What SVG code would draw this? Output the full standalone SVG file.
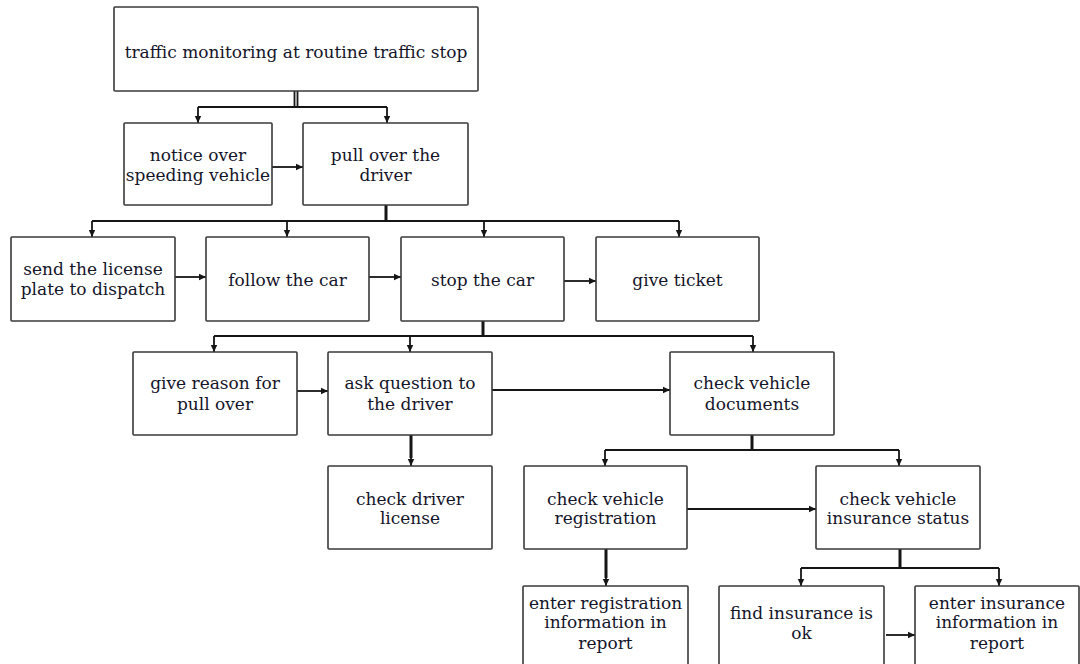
<svg xmlns="http://www.w3.org/2000/svg" width="1080" height="664" viewBox="0 0 1080 664">
  <style>
    .box { fill: #ffffff; stroke: #3a3a3a; stroke-width: 1.6; }
    .lbl { font-family: "DejaVu Serif", "Liberation Serif", serif; font-size: 17px; fill: #15152a; text-anchor: middle; }
    .wire { fill: none; stroke: #151515; stroke-width: 1.8; }
    .stem { fill: none; stroke: #151515; stroke-width: 3; }
    .arrow { fill: none; stroke: #151515; stroke-width: 1.8; marker-end: url(#head); }
  </style>
  <defs>
    <marker id="head" markerUnits="userSpaceOnUse" markerWidth="8" markerHeight="8" refX="7" refY="4" orient="auto">
      <path d="M0,0.8 L7,4 L0,7.2 z" fill="#151515"/>
    </marker>
  </defs>
  <rect width="1080" height="664" fill="#ffffff"/>

  <!-- connectors -->
  <g id="connectors">
    <!-- top split -->
    <line class="wire" x1="294.5" y1="91" x2="294.5" y2="107"/>
    <line class="wire" x1="297.5" y1="91" x2="297.5" y2="107"/>
    <polyline class="wire" points="198,107 387,107"/>
    <line class="arrow" x1="198" y1="107" x2="198" y2="123"/>
    <line class="arrow" x1="387" y1="107" x2="387" y2="123"/>
    <line class="arrow" x1="272" y1="167" x2="303" y2="167"/>

    <!-- pull over split -->
    <line class="stem" x1="386" y1="205" x2="386" y2="221"/>
    <polyline class="wire" points="92,221 679,221"/>
    <line class="arrow" x1="92" y1="221" x2="92" y2="237"/>
    <line class="arrow" x1="287" y1="221" x2="287" y2="237"/>
    <line class="arrow" x1="484" y1="221" x2="484" y2="237"/>
    <line class="arrow" x1="679" y1="221" x2="679" y2="237"/>
    <line class="arrow" x1="175" y1="277" x2="206" y2="277"/>
    <line class="arrow" x1="369" y1="277" x2="401" y2="277"/>
    <line class="arrow" x1="564" y1="281" x2="596" y2="281"/>

    <!-- stop the car split -->
    <line class="stem" x1="483" y1="321" x2="483" y2="336"/>
    <polyline class="wire" points="214,336 753,336"/>
    <line class="arrow" x1="214" y1="336" x2="214" y2="352"/>
    <line class="arrow" x1="410" y1="336" x2="410" y2="352"/>
    <line class="arrow" x1="753" y1="336" x2="753" y2="352"/>
    <line class="arrow" x1="297" y1="391" x2="328" y2="391"/>
    <line class="arrow" x1="492" y1="390" x2="670" y2="390"/>
    <line class="stem" x1="411" y1="435" x2="411" y2="458"/>
    <line class="arrow" x1="411" y1="455" x2="411" y2="466"/>

    <!-- vehicle documents split -->
    <line class="stem" x1="752" y1="435" x2="752" y2="450"/>
    <polyline class="wire" points="605,450 899,450"/>
    <line class="arrow" x1="605" y1="450" x2="605" y2="466"/>
    <line class="arrow" x1="899" y1="450" x2="899" y2="466"/>
    <line class="arrow" x1="687" y1="509" x2="816" y2="509"/>
    <line class="stem" x1="606" y1="549" x2="606" y2="578"/>
    <line class="arrow" x1="606" y1="575" x2="606" y2="586"/>

    <!-- insurance split -->
    <line class="stem" x1="900" y1="549" x2="900" y2="568"/>
    <polyline class="wire" points="801,568 999,568"/>
    <line class="arrow" x1="801" y1="568" x2="801" y2="586"/>
    <line class="arrow" x1="999" y1="568" x2="999" y2="586"/>
    <line class="arrow" x1="886" y1="635" x2="915" y2="635"/>
  </g>

  <!-- nodes -->
  <g id="n-monitoring">
    <rect class="box" x="114" y="7" width="364" height="84" rx="1"/>
    <text class="lbl" x="296" y="58">traffic monitoring at routine traffic stop</text>
  </g>
  <g id="n-notice">
    <rect class="box" x="124" y="123" width="148" height="82" rx="1"/>
    <text class="lbl" x="198" y="161">notice over</text>
    <text class="lbl" x="198" y="181">speeding vehicle</text>
  </g>
  <g id="n-pullover">
    <rect class="box" x="303" y="123" width="165" height="82" rx="1"/>
    <text class="lbl" x="385.5" y="161">pull over the</text>
    <text class="lbl" x="385.5" y="181">driver</text>
  </g>
  <g id="n-send">
    <rect class="box" x="11" y="237" width="164" height="84" rx="1"/>
    <text class="lbl" x="93" y="275">send the license</text>
    <text class="lbl" x="93" y="295">plate to dispatch</text>
  </g>
  <g id="n-follow">
    <rect class="box" x="206" y="237" width="163" height="84" rx="1"/>
    <text class="lbl" x="287.5" y="286">follow the car</text>
  </g>
  <g id="n-stop">
    <rect class="box" x="401" y="237" width="163" height="84" rx="1"/>
    <text class="lbl" x="482.5" y="286">stop the car</text>
  </g>
  <g id="n-ticket">
    <rect class="box" x="596" y="237" width="163" height="84" rx="1"/>
    <text class="lbl" x="677.5" y="286">give ticket</text>
  </g>
  <g id="n-reason">
    <rect class="box" x="133" y="352" width="164" height="83" rx="1"/>
    <text class="lbl" x="215" y="389">give reason for</text>
    <text class="lbl" x="215" y="410">pull over</text>
  </g>
  <g id="n-ask">
    <rect class="box" x="328" y="352" width="164" height="83" rx="1"/>
    <text class="lbl" x="410" y="389">ask question to</text>
    <text class="lbl" x="410" y="410">the driver</text>
  </g>
  <g id="n-documents">
    <rect class="box" x="670" y="352" width="164" height="83" rx="1"/>
    <text class="lbl" x="752" y="389">check vehicle</text>
    <text class="lbl" x="752" y="410">documents</text>
  </g>
  <g id="n-license">
    <rect class="box" x="328" y="466" width="164" height="83" rx="1"/>
    <text class="lbl" x="410" y="505">check driver</text>
    <text class="lbl" x="410" y="524">license</text>
  </g>
  <g id="n-registration">
    <rect class="box" x="524" y="466" width="163" height="83" rx="1"/>
    <text class="lbl" x="605.5" y="505">check vehicle</text>
    <text class="lbl" x="605.5" y="524">registration</text>
  </g>
  <g id="n-insurance">
    <rect class="box" x="816" y="466" width="164" height="83" rx="1"/>
    <text class="lbl" x="898" y="505">check vehicle</text>
    <text class="lbl" x="898" y="524">insurance status</text>
  </g>
  <g id="n-enter-registration">
    <rect class="box" x="523" y="586" width="165" height="90" rx="1"/>
    <text class="lbl" x="605.5" y="609">enter registration</text>
    <text class="lbl" x="605.5" y="628">information in</text>
    <text class="lbl" x="605.5" y="649">report</text>
  </g>
  <g id="n-insurance-ok">
    <rect class="box" x="719" y="586" width="165" height="90" rx="1"/>
    <text class="lbl" x="801.5" y="619">find insurance is</text>
    <text class="lbl" x="801.5" y="639">ok</text>
  </g>
  <g id="n-enter-insurance">
    <rect class="box" x="915" y="586" width="164" height="90" rx="1"/>
    <text class="lbl" x="997" y="609">enter insurance</text>
    <text class="lbl" x="997" y="628">information in</text>
    <text class="lbl" x="997" y="649">report</text>
  </g>
</svg>
